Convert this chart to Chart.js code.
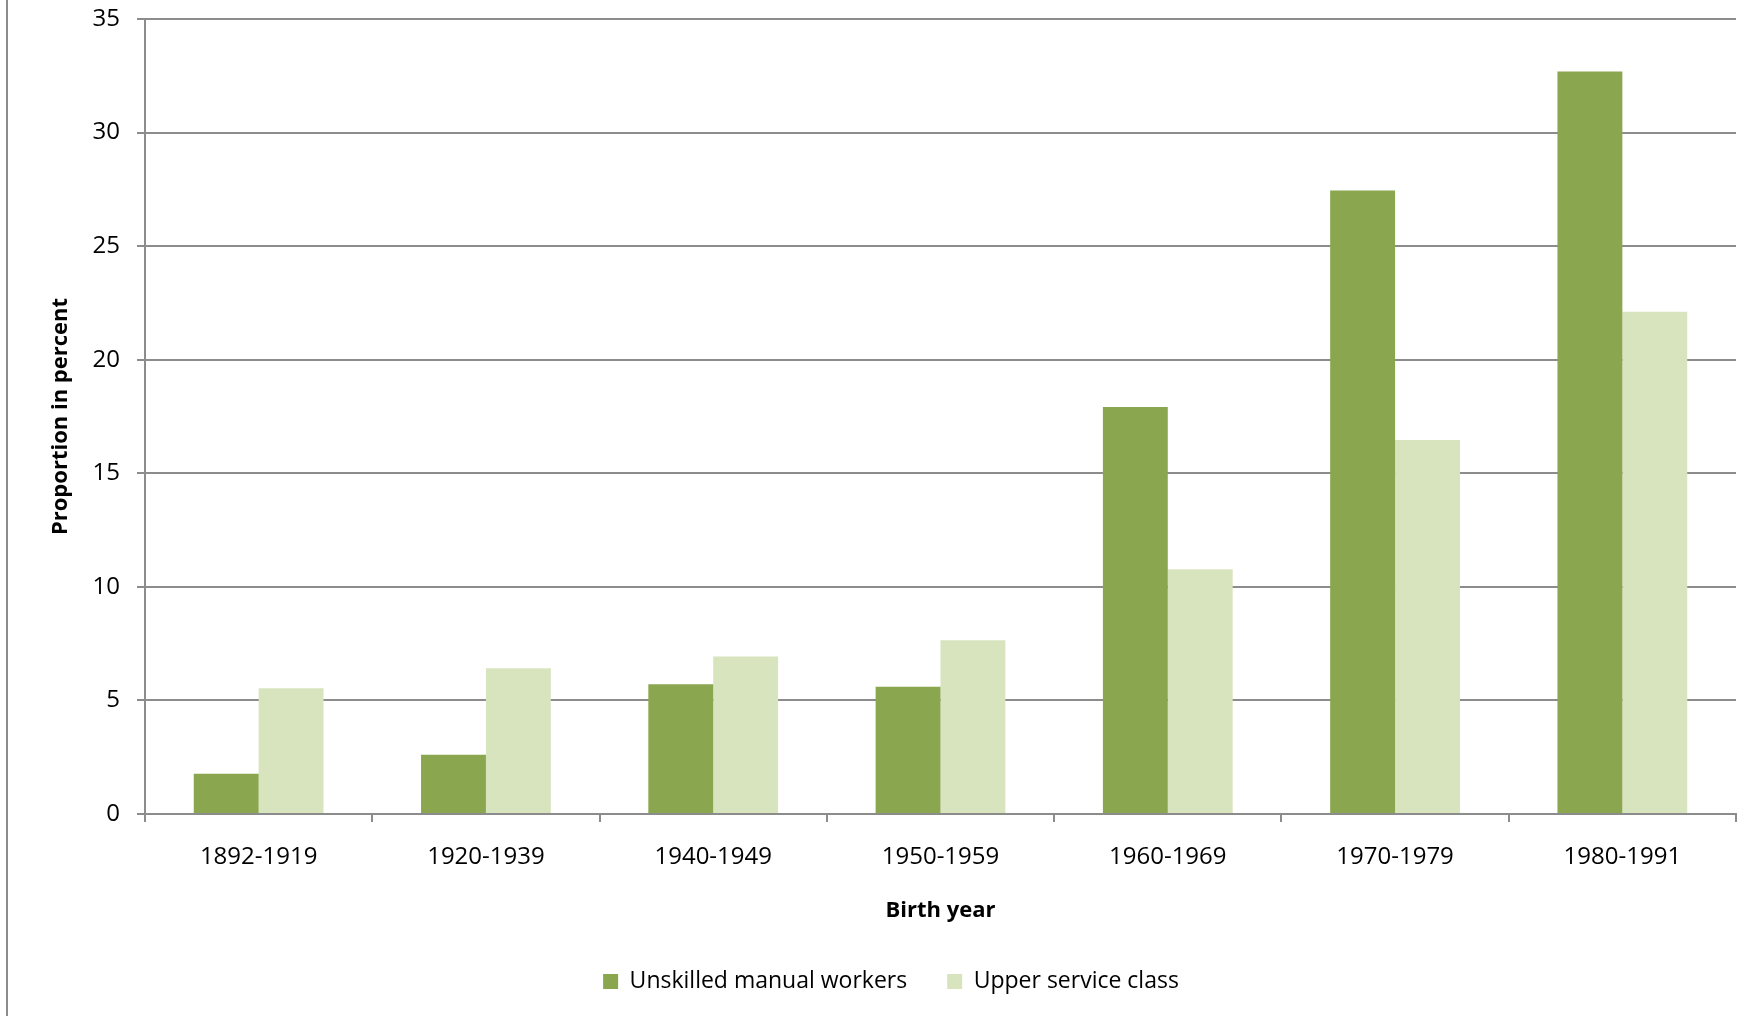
<!DOCTYPE html>
<html>
<head>
<meta charset="utf-8">
<title>Birth year chart</title>
<script src="https://cdn.jsdelivr.net/npm/chart.js@4/dist/chart.umd.min.js"></script>
<style>
  html, body { margin: 0; padding: 0; background: #fff; }
  .wrap { position: relative; width: 1751px; height: 1016px; }
  .edge { position: absolute; left: 6px; top: 0; width: 2px; height: 1016px; background: #8c8c8c; }
  canvas { position: absolute; left: 0; top: 0; }
</style>
</head>
<body>
<div class="wrap">
  <canvas id="chart" width="1751" height="1016"></canvas>
  <div class="edge"></div>
</div>
<script>
// ---- Data ----
const birthYears = ['1892-1919', '1920-1939', '1940-1949', '1950-1959', '1960-1969', '1970-1979', '1980-1991'];
const unskilledManual = [1.77, 2.61, 5.71, 5.60, 17.92, 27.45, 32.69];
const upperService = [5.54, 6.42, 6.93, 7.65, 10.77, 16.47, 22.11];
const yTicks = [0, 5, 10, 15, 20, 25, 30, 35];

const GRID = '#8c8c8c';
const FONT = "'Open Sans', sans-serif";

Chart.defaults.font.family = FONT;
Chart.defaults.color = '#000';

new Chart(document.getElementById('chart'), {
  type: 'bar',
  data: {
    labels: birthYears,
    datasets: [
      {
        label: 'Unskilled manual workers',
        data: unskilledManual,
        backgroundColor: '#8aa64e',
        borderWidth: 0
      },
      {
        label: 'Upper service class',
        data: upperService,
        backgroundColor: '#d8e4bd',
        borderWidth: 0
      }
    ]
  },
  options: {
    responsive: false,
    animation: false,
    categoryPercentage: 0.571,
    barPercentage: 1,
    layout: { padding: { left: 46, right: 15, top: 19, bottom: 13 } },
    plugins: {
      tooltip: { enabled: false },
      legend: {
        position: 'bottom',
        labels: {
          boxWidth: 15,
          boxHeight: 15,
          padding: 40,
          font: { size: 23 }
        }
      }
    },
    scales: {
      x: {
        afterFit: (scale) => { scale.height = 116; },
        grid: {
          drawOnChartArea: false,
          drawTicks: true,
          tickLength: 8,
          color: GRID,
          lineWidth: 2
        },
        border: { display: true, color: GRID, width: 2 },
        ticks: { padding: 21, font: { size: 24 } },
        title: {
          display: true,
          text: 'Birth year',
          font: { size: 22, weight: 'bold' },
          padding: { top: 0, bottom: 6 }
        }
      },
      y: {
        min: yTicks[0],
        max: yTicks[yTicks.length - 1],
        afterFit: (scale) => {
          scale.width = 99;
          // the top label may overhang the plot, no extra space for it
          scale.paddingTop = 0;
        },
        afterBuildTicks: (scale) => { scale.ticks = yTicks.map(v => ({ value: v })); },
        grid: {
          color: GRID,
          lineWidth: 2,
          tickLength: 8
        },
        border: { display: true, color: GRID, width: 2 },
        ticks: { padding: 17, font: { size: 24 } },
        title: {
          display: true,
          text: 'Proportion in percent',
          font: { size: 22, weight: 'bold' },
          padding: { top: 2, bottom: 0 }
        }
      }
    }
  }
});
</script>
</body>
</html>
